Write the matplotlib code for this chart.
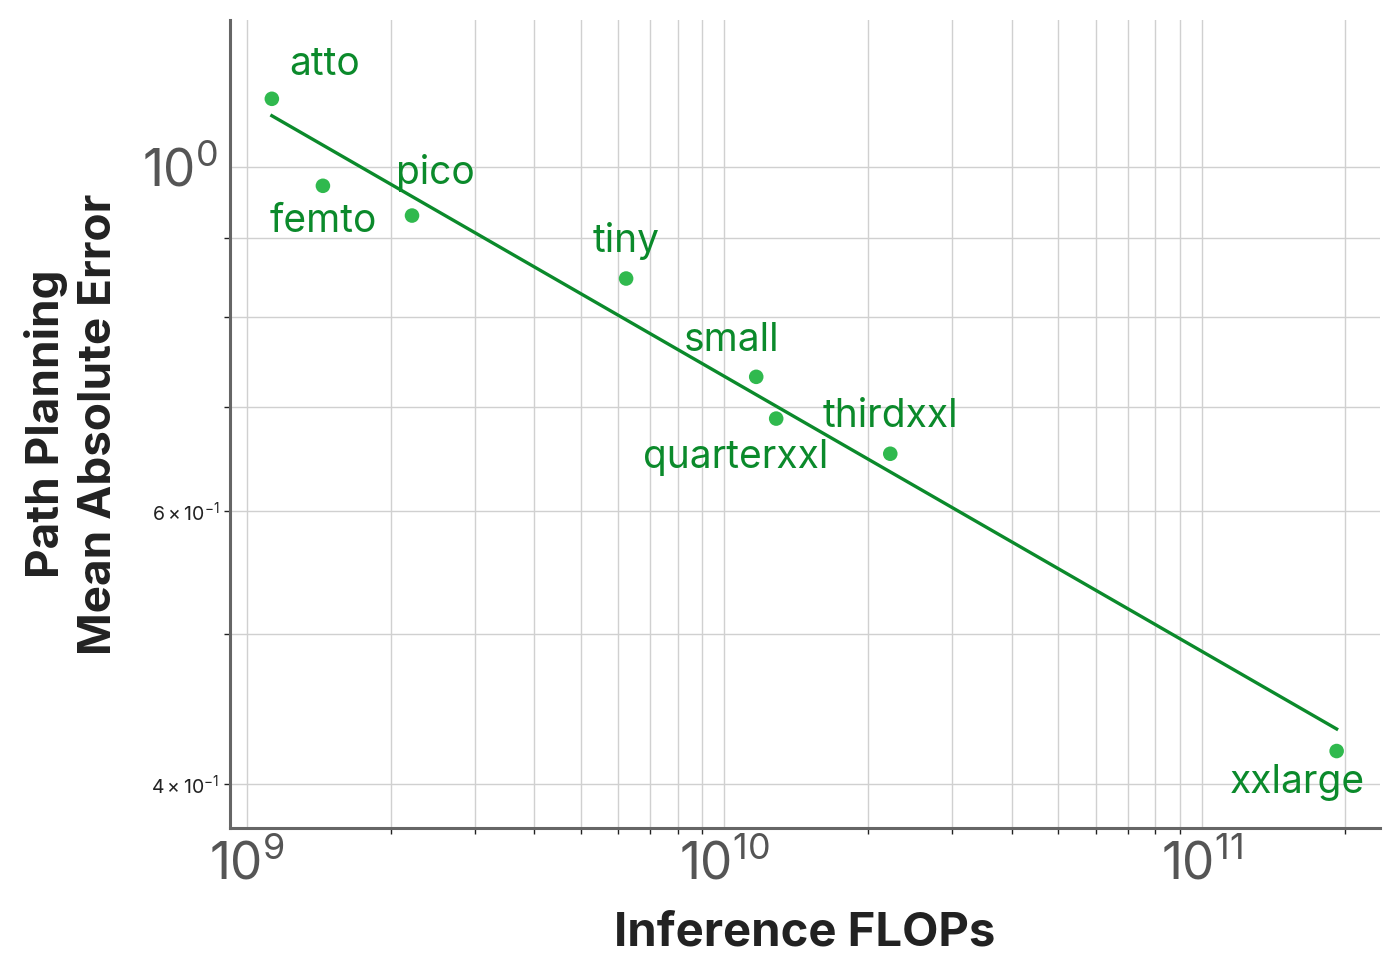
import numpy as np
import matplotlib
matplotlib.use("Agg")
import matplotlib.pyplot as plt
from matplotlib.ticker import LogLocator, LogFormatterSciNotation, NullFormatter

plt.rcParams['font.family'] = ['Inter', 'DejaVu Sans']
plt.rcParams['mathtext.fontset'] = 'custom'
plt.rcParams['mathtext.rm'] = 'Inter'
plt.rcParams['mathtext.it'] = 'Inter:italic'
plt.rcParams['mathtext.bf'] = 'Inter:bold'

# model sizes, inference flops and path planning MAE
models = ['atto', 'femto', 'pico', 'tiny', 'small', 'quarterxxl', 'thirdxxl', 'xxlarge']
flops = [1.128e9, 1.443e9, 2.218e9, 6.23e9, 1.167e10, 1.285e10, 2.228e10, 1.919e11]
mae = [1.106, 0.972, 0.930, 0.847, 0.732, 0.688, 0.653, 0.420]

# label offsets (points) relative to each marker
offsets = [(38, 25), (0, -26), (17, 31), (0, 27), (-18, 26), (-29, -28), (0, 27), (-28, -23)]

point_col = '#30b94e'
dark_col = '#0b8a2b'

fig = plt.figure(figsize=(14, 9.8), dpi=100)
ax = fig.add_axes([0.164, 0.155, 0.822, 0.825])

ax.set_xscale('log')
ax.set_yscale('log')
ax.set_xlim(9.2e8, 2.37e11)
ax.set_ylim(0.3746, 1.244)

# power-law fit in log space
lx = np.log10(flops)
ly = np.log10(mae)
slope, icpt = np.polyfit(lx, ly, 1)
fx = np.array([lx.min(), lx.max()])
ax.plot(10 ** fx, 10 ** (icpt + slope * fx), color=dark_col, lw=2.4, zorder=3)

ax.scatter(flops, mae, s=110, color=point_col, edgecolors='none', zorder=4)

for m, x, y, off in zip(models, flops, mae, offsets):
    ax.annotate(m, (x, y), xytext=off, textcoords='offset points',
                ha='center', va='center', fontsize=28, color=dark_col, zorder=5)

ax.grid(True, which='both', color='#d0d0d0', lw=1.0, zorder=0)
ax.set_axisbelow(True)

for s in ['top', 'right']:
    ax.spines[s].set_visible(False)
for s in ['left', 'bottom']:
    ax.spines[s].set_color('#666666')
    ax.spines[s].set_linewidth(2.2)

ax.xaxis.set_major_locator(LogLocator(base=10, numticks=10))
ax.xaxis.set_minor_locator(LogLocator(base=10, subs=np.arange(2, 10), numticks=20))
ax.xaxis.set_minor_formatter(NullFormatter())

ax.yaxis.set_minor_locator(LogLocator(base=10, subs=np.arange(2, 10), numticks=20))
ax.yaxis.set_minor_formatter(LogFormatterSciNotation(labelOnlyBase=False, minor_thresholds=(2, 0.5)))

ax.tick_params(which='major', length=0, labelsize=37, labelcolor='#555555', pad=8)
ax.tick_params(which='minor', length=4, width=1, color='#222222', labelsize=14, labelcolor='#222222')

ax.set_xlabel('Inference FLOPs', fontsize=34, fontweight='bold', color='#222222', labelpad=15)
ax.set_ylabel('Path Planning\nMean Absolute Error', fontsize=33, fontweight='bold',
              color='#222222', labelpad=16, linespacing=1.3)

fig.savefig('out.png', dpi=100)
